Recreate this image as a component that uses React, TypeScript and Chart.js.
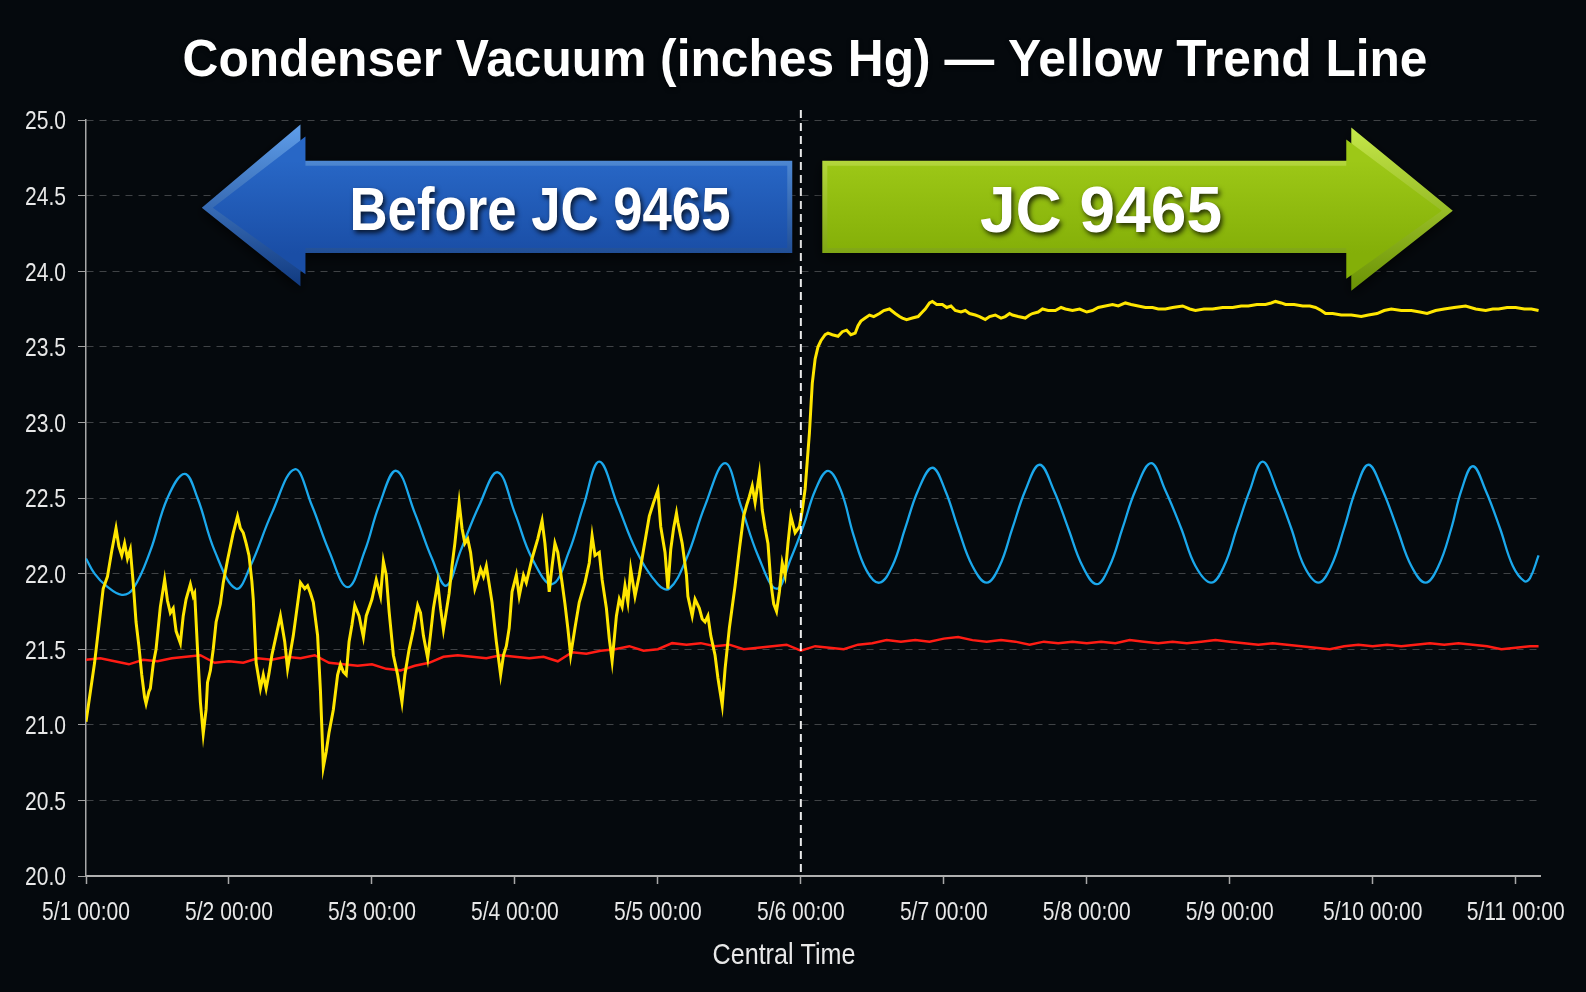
import React, { useEffect, useRef } from "react";
import { Chart, registerables } from "chart.js";

Chart.register(...registerables);

// ---------- data ----------
const chartTitle = "Condenser Vacuum (inches Hg) — Yellow Trend Line";
const xAxisTitle = "Central Time";
const beforeLabel = "Before JC 9465";
const afterLabel = "JC 9465";

// x values are days since 5/1 00:00
const xTickDays = [0, 1, 2, 3, 4, 5, 6, 7, 8, 9, 10];
const xTickLabels = [
  "5/1 00:00", "5/2 00:00", "5/3 00:00", "5/4 00:00", "5/5 00:00", "5/6 00:00",
  "5/7 00:00", "5/8 00:00", "5/9 00:00", "5/10 00:00", "5/11 00:00",
];
const yTicks = [20, 20.5, 21, 21.5, 22, 22.5, 23, 23.5, 24, 24.5, 25];
const dividerDay = 5;

const redX = [
  0, 0.1, 0.2, 0.3, 0.4, 0.5, 0.6, 0.7, 0.8, 0.9, 1.0, 1.1, 1.2, 1.3, 1.4, 1.5, 1.6, 1.7, 1.8, 1.9,
  2.0, 2.1, 2.2, 2.3, 2.4, 2.5, 2.6, 2.7, 2.8, 2.9, 3.0, 3.1, 3.2, 3.3, 3.4, 3.5, 3.6, 3.7, 3.8, 3.9,
  4.0, 4.1, 4.2, 4.3, 4.4, 4.5, 4.6, 4.7, 4.8, 4.9, 5.0, 5.1, 5.2, 5.3, 5.4, 5.5, 5.6, 5.7, 5.8, 5.9,
  6.0, 6.1, 6.2, 6.3, 6.4, 6.5, 6.6, 6.7, 6.8, 6.9, 7.0, 7.1, 7.2, 7.3, 7.4, 7.5, 7.6, 7.7, 7.8, 7.9,
  8.0, 8.1, 8.2, 8.3, 8.4, 8.5, 8.6, 8.7, 8.8, 8.9, 9.0, 9.1, 9.2, 9.3, 9.4, 9.5, 9.6, 9.7, 9.8, 9.9,
  10.0, 10.1, 10.16,
];
const redY = [
  21.43, 21.44, 21.42, 21.40, 21.43, 21.42, 21.44, 21.45, 21.46, 21.41, 21.42, 21.41, 21.44, 21.43, 21.45, 21.44, 21.46, 21.41, 21.40, 21.39,
  21.40, 21.37, 21.36, 21.39, 21.41, 21.45, 21.46, 21.45, 21.44, 21.46, 21.45, 21.44, 21.45, 21.42, 21.48, 21.47, 21.49, 21.50, 21.52, 21.49,
  21.50, 21.54, 21.53, 21.54, 21.52, 21.53, 21.50, 21.51, 21.52, 21.53, 21.49, 21.52, 21.51, 21.50, 21.53, 21.54, 21.56, 21.55, 21.56, 21.55,
  21.57, 21.58, 21.56, 21.55, 21.56, 21.55, 21.53, 21.55, 21.54, 21.55, 21.54, 21.55, 21.54, 21.56, 21.55, 21.54, 21.55, 21.54, 21.55, 21.56,
  21.55, 21.54, 21.53, 21.54, 21.53, 21.52, 21.51, 21.50, 21.52, 21.53, 21.52, 21.53, 21.52, 21.53, 21.54, 21.53, 21.54, 21.53, 21.52, 21.50,
  21.51, 21.52, 21.52,
];

const blueX = [
  0.00, 0.06, 0.14, 0.25, 0.33, 0.45, 0.57, 0.69, 0.78, 0.90, 1.05, 1.15, 1.30, 1.46, 1.58, 1.70, 1.83, 1.95,
  2.05, 2.17, 2.30, 2.42, 2.52, 2.62, 2.75, 2.88, 3.00, 3.12, 3.26, 3.38, 3.48, 3.59, 3.72, 3.85, 4.00, 4.08,
  4.20, 4.33, 4.47, 4.58, 4.70, 4.83, 4.93, 5.02, 5.10, 5.19, 5.28, 5.37, 5.46, 5.55, 5.64, 5.73, 5.82, 5.92,
  6.01, 6.10, 6.20, 6.30, 6.39, 6.48, 6.57, 6.67, 6.77, 6.87, 6.97, 7.07, 7.16, 7.25, 7.34, 7.45, 7.55, 7.66,
  7.76, 7.87, 7.96, 8.05, 8.14, 8.23, 8.33, 8.43, 8.52, 8.62, 8.71, 8.80, 8.88, 8.97, 9.07, 9.17, 9.27, 9.37,
  9.46, 9.55, 9.62, 9.70, 9.79, 9.89, 9.98, 10.06, 10.10, 10.16,
];
const blueY = [
  22.10, 22.00, 21.92, 21.86, 21.90, 22.15, 22.50, 22.66, 22.50, 22.15, 21.90, 22.05, 22.40, 22.69, 22.45, 22.15, 21.91, 22.15,
  22.45, 22.68, 22.40, 22.10, 21.92, 22.15, 22.45, 22.67, 22.40, 22.10, 21.93, 22.15, 22.45, 22.74, 22.45, 22.15, 21.93, 21.90,
  22.10, 22.45, 22.73, 22.45, 22.12, 21.90, 22.10, 22.32, 22.55, 22.68, 22.55, 22.25, 22.02, 21.94, 22.05, 22.30, 22.55, 22.70,
  22.55, 22.30, 22.05, 21.94, 22.05, 22.30, 22.55, 22.72, 22.55, 22.30, 22.05, 21.93, 22.05, 22.30, 22.55, 22.73, 22.55, 22.30,
  22.05, 21.94, 22.05, 22.30, 22.55, 22.74, 22.55, 22.30, 22.05, 21.94, 22.05, 22.30, 22.55, 22.72, 22.55, 22.30, 22.05, 21.94,
  22.05, 22.30, 22.55, 22.71, 22.55, 22.30, 22.05, 21.95, 21.97, 22.12,
];

const yellowX = [
  0.00, 0.06, 0.12, 0.15, 0.18, 0.21, 0.23, 0.25, 0.27, 0.29, 0.31, 0.33, 0.35, 0.37, 0.39, 0.41, 0.42, 0.44, 0.45, 0.47,
  0.49, 0.52, 0.55, 0.57, 0.59, 0.61, 0.63, 0.66, 0.68, 0.70, 0.73, 0.75, 0.76, 0.78, 0.80, 0.82, 0.84, 0.85, 0.87, 0.89,
  0.91, 0.94, 0.96, 0.99, 1.01, 1.03, 1.06, 1.08, 1.10, 1.12, 1.14, 1.16, 1.17, 1.19, 1.22, 1.24, 1.26, 1.28, 1.30, 1.33,
  1.36, 1.39, 1.41, 1.43, 1.45, 1.48, 1.50, 1.53, 1.55, 1.57, 1.59, 1.62, 1.64, 1.66, 1.68, 1.70, 1.73, 1.76, 1.78, 1.80,
  1.82, 1.84, 1.86, 1.88, 1.91, 1.94, 1.96, 2.00, 2.03, 2.06, 2.08, 2.10, 2.12, 2.15, 2.18, 2.21, 2.23, 2.26, 2.29, 2.32,
  2.34, 2.36, 2.39, 2.41, 2.43, 2.46, 2.48, 2.50, 2.52, 2.54, 2.56, 2.58, 2.61, 2.63, 2.65, 2.67, 2.69, 2.72, 2.74, 2.76,
  2.78, 2.80, 2.84, 2.87, 2.90, 2.92, 2.94, 2.96, 2.98, 3.01, 3.03, 3.06, 3.08, 3.12, 3.16, 3.19, 3.21, 3.24, 3.26, 3.28,
  3.30, 3.33, 3.35, 3.37, 3.39, 3.42, 3.45, 3.49, 3.52, 3.54, 3.56, 3.59, 3.61, 3.64, 3.66, 3.68, 3.71, 3.73, 3.75, 3.77,
  3.79, 3.81, 3.84, 3.87, 3.90, 3.94, 3.97, 4.00, 4.02, 4.05, 4.07, 4.09, 4.11, 4.13, 4.14, 4.17, 4.20, 4.21, 4.24, 4.26,
  4.29, 4.31, 4.33, 4.35, 4.37, 4.40, 4.42, 4.45, 4.47, 4.50, 4.54, 4.57, 4.60, 4.62, 4.64, 4.66, 4.68, 4.71, 4.73, 4.75,
  4.77, 4.79, 4.81, 4.83, 4.85, 4.87, 4.89, 4.91, 4.93, 4.96, 4.99, 5.01, 5.03, 5.06, 5.08, 5.10, 5.12, 5.14, 5.17, 5.19,
  5.22, 5.26, 5.29, 5.32, 5.35, 5.38, 5.40, 5.42, 5.45, 5.48, 5.51, 5.55, 5.58, 5.62, 5.66, 5.69, 5.71, 5.74, 5.78, 5.82,
  5.85, 5.87, 5.90, 5.92, 5.95, 5.99, 6.02, 6.05, 6.08, 6.12, 6.15, 6.18, 6.22, 6.25, 6.29, 6.32, 6.36, 6.40, 6.43, 6.46,
  6.48, 6.52, 6.57, 6.60, 6.62, 6.66, 6.69, 6.73, 6.78, 6.82, 6.85, 6.90, 6.95, 7.00, 7.04, 7.08, 7.13, 7.18, 7.22, 7.27,
  7.31, 7.36, 7.41, 7.46, 7.50, 7.55, 7.60, 7.67, 7.72, 7.76, 7.82, 7.88, 7.95, 8.02, 8.08, 8.13, 8.19, 8.25, 8.29, 8.32,
  8.36, 8.39, 8.45, 8.51, 8.56, 8.60, 8.64, 8.67, 8.72, 8.78, 8.85, 8.92, 8.97, 9.03, 9.08, 9.13, 9.20, 9.27, 9.33, 9.38,
  9.44, 9.50, 9.57, 9.65, 9.72, 9.79, 9.84, 9.88, 9.94, 10.00, 10.06, 10.11, 10.16,
];
const yellowY = [
  21.02, 21.41, 21.90, 21.98, 22.15, 22.30, 22.18, 22.12, 22.20, 22.10, 22.16, 21.94, 21.68, 21.52, 21.33, 21.18, 21.14, 21.22, 21.24, 21.40,
  21.50, 21.78, 21.96, 21.82, 21.74, 21.77, 21.62, 21.54, 21.72, 21.83, 21.93, 21.85, 21.87, 21.50, 21.15, 20.94, 21.10, 21.28, 21.36, 21.50,
  21.68, 21.80, 21.94, 22.09, 22.18, 22.27, 22.38, 22.30, 22.27, 22.20, 22.12, 21.95, 21.83, 21.41, 21.24, 21.33, 21.24, 21.34, 21.46, 21.59,
  21.72, 21.55, 21.37, 21.48, 21.59, 21.80, 21.94, 21.90, 21.92, 21.87, 21.81, 21.59, 21.22, 20.72, 20.82, 20.95, 21.10, 21.33, 21.40, 21.35,
  21.33, 21.55, 21.66, 21.79, 21.72, 21.58, 21.72, 21.83, 21.96, 21.85, 22.08, 21.99, 21.75, 21.46, 21.33, 21.15, 21.33, 21.50, 21.63, 21.79,
  21.74, 21.59, 21.44, 21.60, 21.77, 21.94, 21.77, 21.63, 21.75, 21.87, 22.05, 22.20, 22.47, 22.30, 22.20, 22.23, 22.14, 21.90, 21.96, 22.03,
  21.98, 22.05, 21.81, 21.55, 21.33, 21.46, 21.52, 21.64, 21.88, 21.99, 21.85, 21.99, 21.94, 22.10, 22.23, 22.35, 22.20, 21.88, 22.05, 22.20,
  22.14, 21.94, 21.80, 21.64, 21.46, 21.64, 21.81, 21.94, 22.07, 22.25, 22.12, 22.14, 21.96, 21.77, 21.57, 21.42, 21.72, 21.83, 21.78, 21.92,
  21.81, 22.03, 21.85, 21.99, 22.16, 22.38, 22.47, 22.55, 22.31, 22.14, 21.90, 22.16, 22.30, 22.40, 22.34, 22.20, 21.99, 21.85, 21.72, 21.83,
  21.77, 21.70, 21.68, 21.72, 21.59, 21.46, 21.31, 21.13, 21.37, 21.64, 21.92, 22.16, 22.38, 22.45, 22.51, 22.58, 22.47, 22.66, 22.42, 22.30,
  22.20, 21.94, 21.80, 21.75, 21.88, 22.07, 21.99, 22.20, 22.38, 22.27, 22.31, 22.42, 22.56, 22.93, 23.26, 23.42, 23.50, 23.54, 23.58, 23.59,
  23.58, 23.57, 23.60, 23.61, 23.58, 23.59, 23.64, 23.67, 23.69, 23.71, 23.70, 23.72, 23.74, 23.75, 23.72, 23.70, 23.69, 23.68, 23.69, 23.70,
  23.73, 23.75, 23.79, 23.80, 23.78, 23.78, 23.76, 23.77, 23.74, 23.73, 23.74, 23.72, 23.71, 23.70, 23.68, 23.70, 23.71, 23.69, 23.70, 23.72,
  23.71, 23.70, 23.69, 23.71, 23.72, 23.73, 23.75, 23.74, 23.74, 23.76, 23.75, 23.74, 23.75, 23.73, 23.74, 23.76, 23.77, 23.78, 23.77, 23.79,
  23.78, 23.77, 23.76, 23.76, 23.75, 23.75, 23.76, 23.77, 23.75, 23.74, 23.75, 23.75, 23.76, 23.76, 23.77, 23.77, 23.78, 23.78, 23.79, 23.80,
  23.79, 23.78, 23.78, 23.77, 23.77, 23.76, 23.74, 23.72, 23.72, 23.71, 23.71, 23.70, 23.71, 23.72, 23.74, 23.75, 23.74, 23.74, 23.73, 23.72,
  23.74, 23.75, 23.76, 23.77, 23.75, 23.74, 23.75, 23.75, 23.76, 23.76, 23.75, 23.75, 23.74,
];

// ---------- styling ----------
const BG = "#05090d";
const SANS = '"Liberation Sans", Arial, "DejaVu Sans", sans-serif';
const NARROW_SCALE = 0.81;
const X_MAX = 10.17;

// arrow geometry (in axis units: days / inches Hg)
const leftArrow = { tip: 0.81, headBack: 1.5, end: 4.94, tipY: 24.42, headTop: 24.97, headBottom: 23.9, shaftTop: 24.73, shaftBottom: 24.12 };
const rightArrow = { tip: 9.56, headBack: 8.85, end: 5.15, tipY: 24.4, headTop: 24.95, headBottom: 23.87, shaftTop: 24.73, shaftBottom: 24.12 };

function toPts(xs: number[], ys: number[]) {
  return xs.map((x, i) => ({ x, y: ys[i] }));
}

function drawFitText(ctx: CanvasRenderingContext2D, text: string, cx: number, baseY: number, size: number, width: number) {
  ctx.save();
  ctx.font = `bold ${size}px ${SANS}`;
  const w = ctx.measureText(text).width;
  const s = width / w;
  ctx.translate(cx, baseY);
  ctx.scale(s, 1);
  ctx.textAlign = "center";
  ctx.textBaseline = "alphabetic";
  ctx.fillText(text, 0, 0);
  ctx.restore();
}

function drawNarrowText(ctx: CanvasRenderingContext2D, text: string, x: number, baseY: number, size: number, align: CanvasTextAlign) {
  ctx.save();
  ctx.font = `${size}px ${SANS}`;
  ctx.translate(x, baseY);
  ctx.scale(NARROW_SCALE, 1);
  ctx.textAlign = align;
  ctx.textBaseline = "alphabetic";
  ctx.fillText(text, 0, 0);
  ctx.restore();
}

function drawArrow(chart: any, a: typeof leftArrow, dir: number, edgeLight: string, edgeDark: string, bodyTop: string, bodyBottom: string) {
  const { ctx } = chart;
  const xs = chart.scales.x;
  const ys = chart.scales.y;
  const tipX = xs.getPixelForValue(a.tip);
  const hbX = xs.getPixelForValue(a.headBack);
  const endX = xs.getPixelForValue(a.end);
  const tipY = ys.getPixelForValue(a.tipY);
  const hT = ys.getPixelForValue(a.headTop);
  const hB = ys.getPixelForValue(a.headBottom);
  const sT = ys.getPixelForValue(a.shaftTop);
  const sB = ys.getPixelForValue(a.shaftBottom);
  const poly = (b: number) => [
    [tipX + dir * b * 2.2, tipY],
    [hbX + dir * b, hT + b * 2.4],
    [hbX + dir * b, sT + b],
    [endX - dir * b, sT + b],
    [endX - dir * b, sB - b],
    [hbX + dir * b, sB - b],
    [hbX + dir * b, hB - b * 2.4],
  ];
  const path = (pts: number[][]) => {
    ctx.beginPath();
    pts.forEach((p, i) => (i ? ctx.lineTo(p[0], p[1]) : ctx.moveTo(p[0], p[1])));
    ctx.closePath();
  };
  ctx.save();
  ctx.shadowColor = "rgba(0,0,0,0.7)";
  ctx.shadowBlur = 12;
  ctx.shadowOffsetY = 4;
  const g1 = ctx.createLinearGradient(0, hT, 0, hB);
  g1.addColorStop(0, edgeLight);
  g1.addColorStop(1, edgeDark);
  ctx.fillStyle = g1;
  path(poly(0));
  ctx.fill();
  ctx.restore();
  ctx.save();
  const g2 = ctx.createLinearGradient(0, sT, 0, sB);
  g2.addColorStop(0, bodyTop);
  g2.addColorStop(1, bodyBottom);
  ctx.fillStyle = g2;
  path(poly(5));
  ctx.fill();
  ctx.restore();
}

const decorPlugin = {
  id: "decor",
  beforeDraw(chart: any) {
    const { ctx, width, height } = chart;
    ctx.save();
    ctx.fillStyle = BG;
    ctx.fillRect(0, 0, width, height);
    ctx.restore();
  },
  afterDatasetsDraw(chart: any) {
    const { ctx, chartArea } = chart;
    const xs = chart.scales.x;
    const dx = xs.getPixelForValue(dividerDay);
    ctx.save();
    ctx.strokeStyle = "rgba(255,255,255,0.92)";
    ctx.lineWidth = 2;
    ctx.setLineDash([8, 5]);
    ctx.beginPath();
    ctx.moveTo(dx, chartArea.top - 10);
    ctx.lineTo(dx, chartArea.bottom);
    ctx.stroke();
    ctx.restore();

    drawArrow(chart, leftArrow, 1, "#5f9eea", "#113a80", "#2867c6", "#1a4ea6");
    drawArrow(chart, rightArrow, -1, "#c6e84a", "#6a9204", "#9dc817", "#84af08");

    ctx.save();
    ctx.fillStyle = "#ffffff";
    ctx.shadowColor = "rgba(0,0,0,0.75)";
    ctx.shadowBlur = 5;
    ctx.shadowOffsetX = 2;
    ctx.shadowOffsetY = 3;
    drawFitText(ctx, beforeLabel, 540, 230, 62, 381);
    drawFitText(ctx, afterLabel, 1101, 232, 64, 242);
    ctx.restore();
  },
  afterDraw(chart: any) {
    const { ctx, chartArea } = chart;
    const xs = chart.scales.x;
    const ys = chart.scales.y;
    // tick labels (narrow)
    ctx.save();
    ctx.fillStyle = "#e8e8e8";
    xs.ticks.forEach((t: any, i: number) => {
      drawNarrowText(ctx, xTickLabels[i], xs.getPixelForValue(t.value), chartArea.bottom + 44, 26, "center");
    });
    ys.ticks.forEach((t: any) => {
      drawNarrowText(ctx, Number(t.value).toFixed(1), chartArea.left - 20, ys.getPixelForValue(t.value) + 9.3, 26, "right");
    });
    ctx.restore();
    // title
    ctx.save();
    ctx.fillStyle = "#ffffff";
    ctx.shadowColor = "rgba(0,0,0,0.6)";
    ctx.shadowBlur = 4;
    ctx.shadowOffsetY = 2;
    drawFitText(ctx, chartTitle, 805, 76, 52, 1245);
    ctx.restore();
    // axis title
    ctx.save();
    ctx.fillStyle = "#e8e8e8";
    ctx.font = `30px ${SANS}`;
    const w = ctx.measureText(xAxisTitle).width;
    ctx.translate(784, 964);
    ctx.scale(143 / w, 1);
    ctx.textAlign = "center";
    ctx.fillText(xAxisTitle, 0, 0);
    ctx.restore();
  },
};

export default function App() {
  const ref = useRef<HTMLCanvasElement>(null);
  useEffect(() => {
    const canvas = ref.current;
    if (!canvas) return;
    const chart = new Chart(canvas, {
      type: "line",
      data: {
        datasets: [
          { label: "Yellow", data: toPts(yellowX, yellowY), borderColor: "#ffe600", borderWidth: 3, pointRadius: 0, tension: 0, order: 0 },
          { label: "Blue", data: toPts(blueX, blueY), borderColor: "#1ba8ec", borderWidth: 2.3, pointRadius: 0, tension: 0.4, order: 1 },
          { label: "Red", data: toPts(redX, redY), borderColor: "#ff1c14", borderWidth: 2.5, pointRadius: 0, tension: 0, order: 2 },
        ],
      },
      options: {
        animation: false,
        responsive: false,
        devicePixelRatio: 1,
        layout: { padding: { top: 120, left: 0, right: 46, bottom: 0 } },
        plugins: { legend: { display: false }, tooltip: { enabled: false }, title: { display: false } },
        scales: {
          x: {
            type: "linear",
            min: 0,
            max: X_MAX,
            afterBuildTicks: (s: any) => {
              s.ticks = xTickDays.map((v) => ({ value: v }));
            },
            afterFit: (s: any) => {
              s.height = 116;
            },
            ticks: { display: false },
            grid: { drawOnChartArea: false, drawTicks: true, tickLength: 8, tickColor: "#a8a8a8", tickWidth: 1.5 },
            border: { display: true, color: "#b0b0b0", width: 2 },
          },
          y: {
            min: 20,
            max: 25,
            afterBuildTicks: (s: any) => {
              s.ticks = yTicks.map((v) => ({ value: v }));
            },
            afterFit: (s: any) => {
              s.width = 86;
            },
            ticks: { display: false },
            grid: {
              color: "rgba(255,255,255,0.24)",
              lineWidth: 1,
              tickLength: 8,
              tickColor: "#a0a0a0",
              tickBorderDash: [],
            } as any,
            border: { display: true, color: "#a8a8a8", width: 1.5, dash: [7, 6] },
          },
        },
      },
      plugins: [decorPlugin],
    } as any);
    return () => chart.destroy();
  }, []);
  return (
    <div style={{ position: "fixed", left: 0, top: 0, width: 1586, height: 992, background: BG }}>
      <canvas ref={ref} width={1586} height={992} style={{ display: "block", width: 1586, height: 992 }} />
    </div>
  );
}
